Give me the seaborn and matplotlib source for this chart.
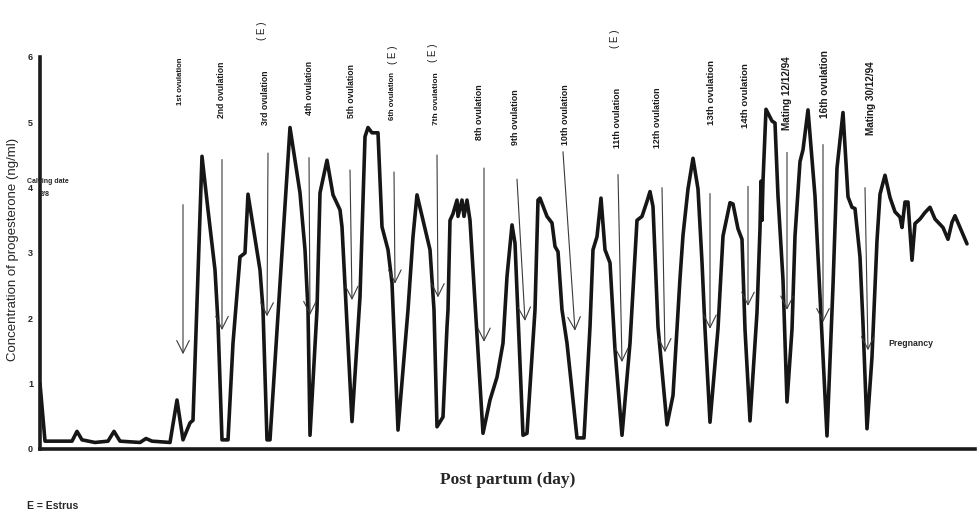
import numpy as np
import matplotlib
matplotlib.use("Agg")
import matplotlib.pyplot as plt
import seaborn as sns

# progesterone profile (day post partum, ng/ml)
day = [0, 2.5, 16, 18.5, 21, 27.5, 34, 37, 40, 50, 53, 56, 65,
       68.5, 71.5, 75, 76.5, 81, 84, 87.5, 89, 91, 94, 96.5, 100, 102.5, 104,
       110, 111.5, 113.5, 115, 125, 130, 132.5, 134, 135, 138.5, 140, 143.5,
       146.5, 150, 151, 156, 160, 162.5, 164, 166, 169, 171, 174, 176, 179,
       184, 186.5, 188.5, 191.5, 195, 197, 198.5, 201.5, 203.5, 204, 205,
       206.5, 208.5, 209, 211, 212, 213.5, 215, 221.5, 225, 228.5, 231.5,
       233.5, 236, 237.5, 241.5, 243.5, 247.5, 249, 250, 253.5, 256, 257.5,
       259, 261, 263.5, 268.5, 272, 275, 276.5, 278.5, 280.5, 282.5, 285,
       287.5, 291, 295, 298.5, 301, 303.5, 305, 306.5, 309, 313.5, 316.5,
       320, 321.5, 324, 326.5, 329, 331, 332.5, 335, 339, 341.5, 345, 346.5,
       349, 351, 352.5, 355, 358.5, 360, 360.5, 361, 361.5, 363, 366, 367.5,
       369, 371.5, 373.5, 376, 377.5, 380, 381.5, 384, 387.5, 390, 393.5,
       396.5, 398.5, 401.5, 404, 406, 407.5, 410, 411.5, 413.5, 416, 418.5,
       420, 422.5, 425, 427.5, 430, 431, 432.5, 434, 436, 437.5, 440, 442.5,
       445, 447.5, 451.5, 454, 456, 457.5, 460, 463.5]
conc = [1.0, 0.12, 0.12, 0.27, 0.14, 0.1, 0.12, 0.27, 0.12, 0.1, 0.16, 0.12, 0.1,
        0.75, 0.14, 0.4, 0.44, 4.48, 3.66, 2.74, 1.93, 0.14, 0.14, 1.62, 2.94, 3.0, 3.9,
        2.74, 2.13, 0.14, 0.14, 4.92, 3.92, 3.05, 2.13, 0.21, 2.13, 3.92, 4.42,
        3.89, 3.66, 3.4, 0.42, 2.33, 4.78, 4.92, 4.84, 4.84, 3.4, 3.05, 2.54, 0.29,
        2.13, 3.25, 3.89, 3.5, 3.05, 2.13, 0.34, 0.49, 1.87, 2.13, 3.5,
        3.6, 3.81, 3.56, 3.81, 3.56, 3.81, 3.5, 0.24, 0.75, 1.1, 1.62,
        2.64, 3.43, 3.15, 0.21, 0.24, 2.13, 3.81, 3.84, 3.56, 3.46, 3.1,
        3.02, 2.13, 1.62, 0.17, 0.17, 1.87, 3.05, 3.25, 3.84, 3.05, 2.85,
        1.52, 0.21, 1.62, 3.5, 3.56, 3.79, 3.94, 3.71, 1.87, 0.37, 0.82,
        2.61, 3.27, 3.98, 4.45, 3.98, 2.86, 1.84, 0.41, 1.84, 3.26, 3.77, 3.75,
        3.37, 3.21, 1.83, 0.43, 2.09, 3.37, 4.1, 3.5, 4.1, 5.2, 5.02, 4.99,
        3.87, 2.59, 0.72, 1.83, 3.26, 4.4, 4.58, 5.19, 3.87, 2.33, 0.2,
        2.5, 4.3, 5.15, 3.86, 3.7, 3.68, 2.94, 1.92, 0.31, 1.41, 3.19,
        3.9, 4.19, 3.85, 3.63, 3.55, 3.39, 3.78, 3.78, 2.89, 3.45, 3.52, 3.62,
        3.7, 3.52, 3.39, 3.21, 3.47, 3.57, 3.39, 3.14]

ov_labels = ["1st ovulation", "2nd ovulation", "3rd ovulation", "4th ovulation",
             "5th ovulation", "6th ovulation", "7th ovulation", "8th ovulation",
             "9th ovulation", "10th ovulation", "11th ovulation", "12th ovulation",
             "13th ovulation", "14th ovulation", "Mating 12/12/94", "16th ovulation",
             "Mating 30/12/94"]
label_day = [70, 91, 113, 134.5, 155.5, 176.5, 198, 220, 238, 263, 289, 308.5,
             336, 352.5, 373.5, 392.5, 415.5]
label_base = [5.27, 5.07, 4.96, 5.11, 5.07, 5.04, 4.96, 4.73, 4.66, 4.66, 4.61,
              4.61, 4.96, 4.92, 4.88, 5.07, 4.81]
label_size = [5.6, 6.2, 6.2, 6.2, 6.2, 5.6, 6.0, 6.4, 6.4, 6.4, 6.4, 6.4,
              6.8, 6.8, 7.2, 7.2, 7.2]
# arrows: start (top) and tip
arrow_day_top = [71.5, 91, 114, 134.5, 155, 177, 198.5, 222, 238.5, 261.5, 289,
                 311, 335, 354, 373.5, 391.5, 412.5]
arrow_top = [3.74, 4.43, 4.53, 4.46, 4.27, 4.24, 4.5, 4.3, 4.13, 4.55, 4.2, 4.0,
             3.91, 4.02, 4.54, 4.66, 4.0]
arrow_day_tip = [71.5, 91, 113.5, 135, 156, 177.5, 199, 222, 242.5, 267.5, 291,
                 312.5, 335, 354, 373.5, 391.5, 414]
arrow_tip = [1.45, 1.82, 2.03, 2.05, 2.28, 2.53, 2.32, 1.64, 1.96, 1.81, 1.33,
             1.48, 1.84, 2.19, 2.13, 1.94, 1.51]
# estrus marks
estrus_day = [111, 176.5, 196.5, 287.5]
estrus_base = [6.26, 5.9, 5.92, 6.14]

sns.set_style("white")
plt.rcParams['font.family'] = ['Liberation Sans', 'DejaVu Sans']

fig = plt.figure(figsize=(9.77, 5.17), dpi=100)
ax = fig.add_axes([40/977, 68/517, 935/977, 392/517])

sns.lineplot(x=day, y=conc, estimator=None, sort=False, color='#161616',
             linewidth=2.6, ax=ax)
for ln in ax.lines:
    ln.set_solid_joinstyle('round')

for x0, y0, x1, y1 in zip(arrow_day_top, arrow_top, arrow_day_tip, arrow_tip):
    ax.annotate("", xy=(x1, y1), xytext=(x0, y0),
                arrowprops=dict(arrowstyle="->,head_length=0.9,head_width=0.45",
                                color='#3a3a3a', lw=0.8, shrinkA=0, shrinkB=0))

for x, yb, t, fs in zip(label_day, label_base, ov_labels, label_size):
    ax.text(x, yb, t, rotation=90, ha='center', va='bottom', fontsize=fs,
            fontweight='bold', color='#1a1a1a', clip_on=False)
for x, yb in zip(estrus_day, estrus_base):
    ax.text(x, yb, "( E )", rotation=90, ha='center', va='bottom', fontsize=7,
            color='#1a1a1a', clip_on=False)

ax.text(-6.5, 4.09, "Calving date", fontsize=5, fontweight='bold', va='center')
ax.text(0, 3.9, "2/8", fontsize=5, fontweight='bold', va='center')
ax.text(424, 1.62, "Pregnancy", fontsize=6.3, fontweight='bold', va='center')

ax.set_xlim(0, 467.5)
ax.set_ylim(0, 6)
ax.set_yticks(range(0, 7))
ax.set_yticklabels([str(v) for v in range(0, 7)], fontsize=6.5, fontweight='bold')
ax.set_xticks(np.arange(0, 467, 4.6))
ax.set_xticklabels([])
ax.tick_params(axis='x', length=3, width=1.6, color='#333333', direction='out')
ax.tick_params(axis='y', length=3, width=1.2, color='#222222', pad=2)

for s in ['top', 'right']:
    ax.spines[s].set_visible(False)
ax.spines['left'].set_linewidth(2.6)
ax.spines['bottom'].set_linewidth(2.6)
ax.spines['left'].set_color('#1a1a1a')
ax.spines['bottom'].set_color('#1a1a1a')

ax.set_ylabel("Concentration of progesterone (ng/ml)", fontsize=9.5)
ax.yaxis.set_label_coords(-0.0225, 0.51)
ax.set_xlabel("Post partum (day)", fontsize=12.5, fontweight='bold',
              family=['Liberation Serif', 'DejaVu Serif'], labelpad=10)

fig.text(27/977, 1 - 506/517, "E = Estrus", fontsize=7.5, fontweight='bold',
         va='center', ha='left')

fig.savefig("out.png", dpi=100)
